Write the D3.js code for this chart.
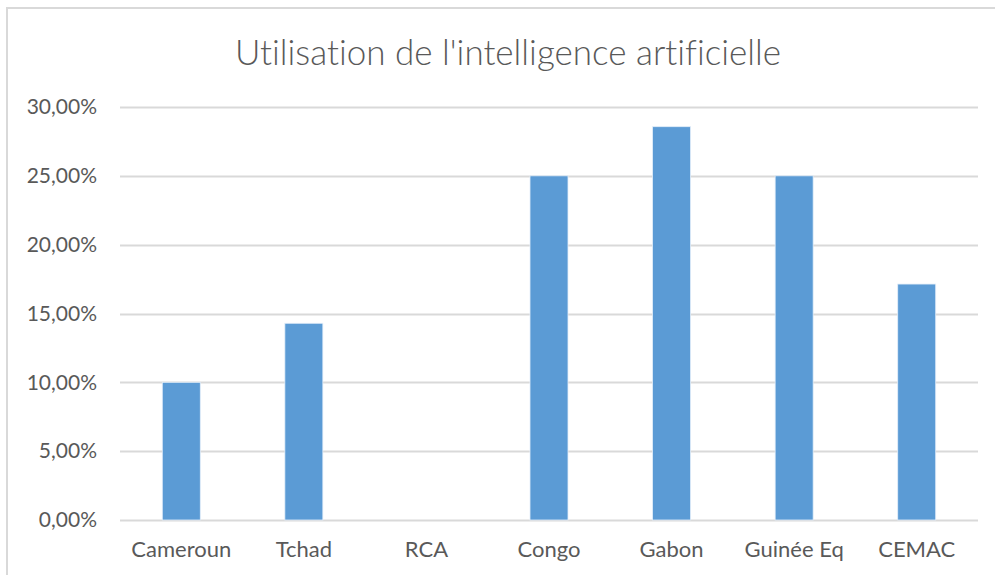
<!DOCTYPE html>
<html>
<head>
<meta charset="utf-8">
<script src="https://cdn.jsdelivr.net/npm/d3@7"></script>
<style>
body { margin: 0; background: #fff; }
svg { display: block; font-family: Lato, "Open Sans", sans-serif; }
</style>
</head>
<body>
<script>
var width = 995
var height = 575
var left = 120, right = 978, top_y = 107, bottom = 520

var categories = ["Cameroun", "Tchad", "RCA", "Congo", "Gabon", "Guinée Eq", "CEMAC"]
var values = [0.10, 0.1429, 0, 0.25, 0.2857, 0.25, 0.1714]
var ticks = [0, 0.05, 0.10, 0.15, 0.20, 0.25, 0.30]
var tick_labels = ["0,00%", "5,00%", "10,00%", "15,00%", "20,00%", "25,00%", "30,00%"]
var title = "Utilisation de l'intelligence artificielle"

var x = d3.scaleBand()
.domain(categories)
.range([left, right])
.paddingInner(0.69)
.paddingOuter(0.345)

var y = d3.scaleLinear()
.domain([0, 0.30])
.range([bottom, top_y])

var svg = d3.select("body").append("svg")
.attr("width", width)
.attr("height", height)

// outer chart frame (right/bottom cut off in the reference)
svg.append("rect")
.attr("x", 7)
.attr("y", 8)
.attr("width", width + 20)
.attr("height", height + 20)
.attr("fill", "none")
.attr("stroke", "#d9d9d9")
.attr("stroke-width", 2)

svg.append("text")
.attr("x", 508)
.attr("y", 65)
.attr("text-anchor", "middle")
.style("font-size", "35px")
.style("font-weight", 300)
.style("font-variant-ligatures", "none")
.style("fill", "#595959")
.text(title)

// gridlines
svg.append("g")
.selectAll("line")
.data(ticks)
.enter().append("line")
.attr("x1", left)
.attr("x2", right)
.attr("y1", function(d) { return Math.round(y(d)) + 0.5 })
.attr("y2", function(d) { return Math.round(y(d)) + 0.5 })
.attr("stroke", "#d9d9d9")
.attr("stroke-width", 2)

// y axis labels
var yAxis = d3.axisLeft(y)
.tickValues(ticks)
.tickFormat(function(d, i) { return tick_labels[i] })
.tickSize(0)
.tickPadding(23)

svg.append("g")
.attr("transform", "translate(" + left + ",0)")
.call(yAxis)
.call(function(g) { g.select(".domain").remove() })
.selectAll("text")
.style("font-size", "21px")
.style("font-family", "Lato, 'Open Sans', sans-serif")
.style("fill", "#595959")

// bars
svg.append("g")
.selectAll("rect")
.data(values)
.enter().append("rect")
.attr("x", function(d, i) { return x(categories[i]) })
.attr("y", function(d) { return y(d) })
.attr("width", x.bandwidth())
.attr("height", function(d) { return bottom - y(d) })
.attr("fill", "#5b9bd5")
.attr("stroke", "#e3eef9")
.attr("stroke-width", 0.8)

// x axis labels
var xAxis = d3.axisBottom(x)
.tickSize(0)
.tickPadding(21)

svg.append("g")
.attr("transform", "translate(0," + bottom + ")")
.call(xAxis)
.call(function(g) { g.select(".domain").remove() })
.selectAll("text")
.style("font-size", "22px")
.style("font-family", "Lato, 'Open Sans', sans-serif")
.style("fill", "#595959")
</script>
</body>
</html>
